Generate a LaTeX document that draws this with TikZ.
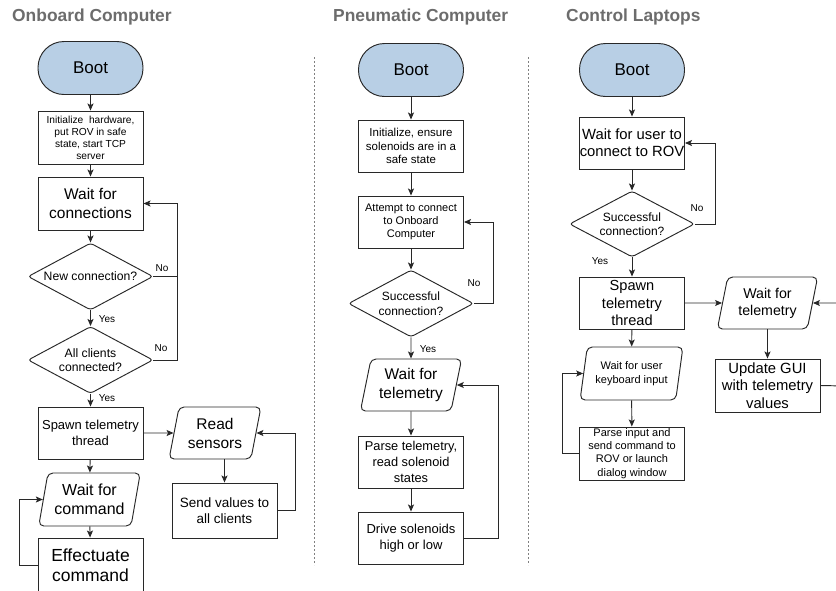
\documentclass[tikz,border=0pt]{standalone}
\usepackage{fontspec}
\setmainfont{Liberation Sans}
\usetikzlibrary{shapes.geometric,arrows.meta}
\definecolor{bootblue}{RGB}{184,207,229}
\definecolor{titlegray}{RGB}{108,108,108}
\definecolor{linegray}{RGB}{40,40,40}
\newcommand\setfs[2]{\fontsize{#1}{#2}\selectfont}
\tikzset{
 base/.style={draw=linegray, line width=0.95pt, align=center, inner sep=0pt},
 bootbox/.style={base, rectangle, fill=bootblue, rounded corners=26pt, minimum width=105pt, minimum height=53pt, font=\setfs{17}{20}},
 procbox/.style={base, rectangle, minimum width=105pt, minimum height=53pt},
 iobox/.style={base, trapezium, trapezium left angle=76, trapezium right angle=104, trapezium stretches=true, rounded corners=5pt, minimum width=102pt, minimum height=53pt},
 decbox/.style={base, diamond, aspect=1.9, rounded corners=3pt, minimum width=125pt, minimum height=67pt},
 arr/.style={draw=linegray, line width=0.95pt, -{Stealth[length=7pt,width=6pt,inset=1.5pt]}},
 link/.style={draw=linegray, line width=0.95pt},
 lbl/.style={font=\setfs{10}{12}, inner sep=0pt},
 title/.style={font=\bfseries\setfs{17.4}{20}, text=titlegray, inner sep=0pt, anchor=base west},
 sepline/.style={draw=gray, line width=0.8pt, dash pattern=on 2pt off 2pt},
}
\begin{document}
\begin{tikzpicture}[x=1pt,y=-1pt]
\useasboundingbox (0,0) rectangle (836,590);
\clip (0,0) rectangle (836,590);
% titles
\node[title] (t1) at (12,21) {Onboard Computer};
\node[title] (t2) at (333,21) {Pneumatic Computer};
\node[title] (t3) at (566,21) {Control Laptops};
% separators
\coordinate (s1a) at (314,57); \coordinate (s1b) at (314,565);
\coordinate (s2a) at (528,57); \coordinate (s2b) at (528,565);
\draw[sepline] (s1a) -- (s1b);
\draw[sepline] (s2a) -- (s2b);

% ---------------- Onboard ----------------
\node[bootbox] (boot1) at (90.5,68) {Boot};
\node[procbox, font=\setfs{10.2}{12}] (init1) at (90.5,137.5) {Initialize~ hardware,\\put ROV in safe\\state, start TCP\\server};
\node[procbox, font=\setfs{15.5}{18.5}] (wait1) at (90.5,203.5) {Wait for\\connections};
\node[decbox, font=\setfs{12.2}{14}] (d1) at (90.5,276.5) {New connection?};
\node[decbox, font=\setfs{12.2}{14}] (d2) at (90.5,360) {All clients\\connected?};
\node[procbox, minimum height=52pt, font=\setfs{13}{16}] (spawn1) at (90.5,433) {Spawn telemetry\\thread};
\node[iobox, font=\setfs{16}{19.5}] (wcmd) at (89.5,499.5) {Wait for\\command};
\node[procbox, minimum height=54pt, font=\setfs{17.5}{20.5}] (eff) at (90.5,565) {Effectuate\\command};
\node[iobox, minimum width=92pt, minimum height=52pt, font=\setfs{15.5}{19}] (read) at (215,433) {Read\\sensors};
\node[procbox, minimum height=55pt, font=\setfs{13.5}{16.5}] (send) at (224.5,510.5) {Send values to\\all clients};
\coordinate (lx1) at (177,0);

\draw[arr] (boot1) -- (init1);
\draw[arr] (init1) -- (wait1);
\draw[arr] (wait1) -- (d1);
\draw[arr] (d1) -- (d2);
\draw[arr] (d2) -- (spawn1);
\draw[arr] (d1.east) -- (d1.east -| lx1) |- (wait1.east);
\draw[link] (d2.east) -- (d2.east -| lx1) -- (d1.east -| lx1);
\node[lbl] (no1) at (162,268) {No};
\node[lbl] (no2) at (161,348) {No};
\node[lbl] (yes1) at (107,319) {Yes};
\node[lbl] (yes2) at (107,398) {Yes};
\draw[arr] (spawn1.east) -- (read.west);
\draw[arr] (send.north |- read.south) -- (send.north);
\draw[arr] (send.east) -- ++(18,0) |- (read.east);
\draw[arr] (spawn1) -- (wcmd);
\draw[arr] (wcmd) -- (eff);
\draw[arr] (eff.west) -- ++(-18,0) |- (wcmd.west);

% ---------------- Pneumatic ----------------
\node[bootbox] (boot2) at (411,70) {Boot};
\node[procbox, minimum height=52pt, font=\setfs{11.5}{13.8}] (init2) at (411,146) {Initialize, ensure\\solenoids are in a\\safe state};
\node[procbox, minimum height=52pt, font=\setfs{11}{12.8}] (att) at (411,222) {Attempt to connect\\to Onboard\\Computer};
\node[decbox, font=\setfs{12}{14.5}] (d3) at (411,303.5) {Successful\\connection?};
\node[iobox, minimum height=52pt, font=\setfs{15.5}{19.5}] (wtel2) at (411,385) {Wait for\\telemetry};
\node[procbox, minimum height=52pt, font=\setfs{12.8}{15.7}] (parse2) at (411,462) {Parse telemetry,\\read solenoid\\states};
\node[procbox, minimum height=52pt, font=\setfs{13}{16}] (drive) at (411,538) {Drive solenoids\\high or low};
\coordinate (lx2) at (493,0);
\coordinate (lx3) at (498,0);

\draw[arr] (boot2) -- (init2);
\draw[arr] (init2) -- (att);
\draw[arr] (att) -- (d3);
\draw[arr] (d3.east) -- (d3.east -| lx2) |- (att.east);
\node[lbl] (no3) at (474,283) {No};
\draw[arr] (d3) -- (wtel2);
\node[lbl] (yes3) at (428,349) {Yes};
\draw[arr] (wtel2) -- (parse2);
\draw[arr] (parse2) -- (drive);
\draw[arr] (drive.east) -- (drive.east -| lx3) |- (wtel2.east);

% ---------------- Control ----------------
\node[bootbox] (boot3) at (632,70) {Boot};
\node[procbox, minimum height=52pt, font=\setfs{14.8}{17.3}] (wu) at (632,143) {Wait for user to\\connect to ROV};
\node[decbox, minimum height=66pt, font=\setfs{12}{14}] (d4) at (632,224) {Successful\\connection?};
\node[procbox, minimum height=52pt, font=\setfs{14.6}{17.3}] (spawn3) at (632,303) {Spawn\\telemetry\\thread};
\node[iobox, minimum width=101pt, minimum height=52pt, font=\setfs{14.2}{17.3}] (wtel3) at (767.5,303) {Wait for\\telemetry};
\node[procbox, font=\setfs{14.8}{17.5}] (upd) at (767.5,385.5) {Update GUI\\with telemetry\\values};
\node[iobox, minimum width=103pt, font=\setfs{11}{13.3}] (wkb) at (631.5,373.5) {Wait for user\\keyboard input};
\node[procbox, font=\setfs{11}{13.2}] (pin) at (632,453.5) {Parse input and\\send command to\\ROV or launch\\dialog window};
\coordinate (lx4) at (715,0);
\coordinate (lx5) at (562,0);
\coordinate (rin) at (845,303);
\coordinate (rout) at (845,386);

\draw[arr] (boot3) -- (wu);
\draw[arr] (wu) -- (d4);
\draw[arr] (d4.east) -- (d4.east -| lx4) |- (wu.east);
\node[lbl] (no4) at (697,208) {No};
\draw[arr] (d4) -- (spawn3);
\node[lbl] (yes4) at (600,261) {Yes};
\draw[arr] (spawn3.east) -- (wtel3.west);
\draw[arr] (rin) -- (wtel3.east);
\draw[arr] (upd.north |- wtel3.south) -- (upd.north);
\draw[link] (upd.east) -- (rout);
\draw[arr] (spawn3) -- (wkb);
\draw[arr] (wkb) -- (pin);
\draw[arr] (pin.west) -- (pin.west -| lx5) |- (wkb.west);
\end{tikzpicture}
\end{document}
